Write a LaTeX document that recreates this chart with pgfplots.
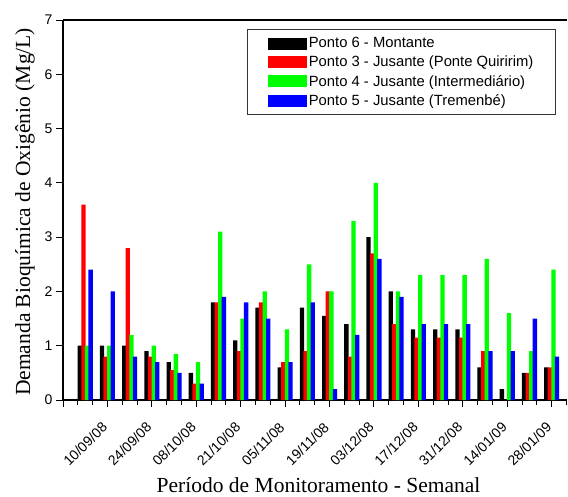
\documentclass[border=0pt]{standalone}
\usepackage{fontspec}
\setmainfont{Liberation Serif}
\newfontfamily\arial{Liberation Sans}
\usepackage{pgfplots}
\pgfplotsset{compat=1.18}
\usepackage{pgfplotstable}

\pgfplotstableread{
x k r g b
0 1.0 3.6 1.0 2.4
1 1.0 0.8 1.0 2.0
2 1.0 2.8 1.2 0.8
3 0.9 0.8 1.0 0.7
4 0.7 0.55 0.85 0.5
5 0.5 0.3 0.7 0.3
6 1.8 1.8 3.1 1.9
7 1.1 0.9 1.5 1.8
8 1.7 1.8 2.0 1.5
9 0.6 0.7 1.3 0.7
10 1.7 0.9 2.5 1.8
11 1.55 2.0 2.0 0.2
12 1.4 0.8 3.3 1.2
13 3.0 2.7 4.0 2.6
14 2.0 1.4 2.0 1.9
15 1.3 1.15 2.3 1.4
16 1.3 1.15 2.3 1.4
17 1.3 1.15 2.3 1.4
18 0.6 0.9 2.6 0.9
19 0.2 0 1.6 0.9
20 0.5 0.5 0.9 1.5
21 0.6 0.6 2.4 0.8
}\data

\begin{document}
\begin{tikzpicture}
\begin{axis}[
  at={(63pt,96pt)}, anchor=south west,
  scale only axis, width=504pt, height=380pt,
  xmin=-1, xmax=21.69, ymin=0, ymax=7,
  axis x line*=box, axis y line*=left,
  axis line style={line width=1.1pt},
  xtick pos=bottom, ytick pos=left,
  tick align=outside,
  major tick length=7pt, minor tick length=5pt,
  every tick/.style={black, line width=1pt},
  xtick={-1,1,...,21}, xticklabels={},
  minor xtick={-1,-0.33333,...,21.6},
  extra x ticks={0,2,...,20},
  extra x tick labels={10/09/08,24/09/08,08/10/08,21/10/08,05/11/08,19/11/08,03/12/08,17/12/08,31/12/08,14/01/09,28/01/09},
  extra x tick style={major tick length=0pt,
    xticklabel style={font=\arial\fontsize{14}{16}\selectfont, yshift=-44pt, rotate=45, anchor=center}},
  ytick={0,1,...,7},
  /pgf/number format/assume math mode=true,
  tick label style={font=\arial\fontsize{14}{16}\selectfont},
  xlabel={Período de Monitoramento - Semanal},
  ylabel={Demanda Bioquímica de Oxigênio (Mg/L)},
  label style={font=\fontsize{21.5}{24}\selectfont},
  xlabel style={at={(axis description cs:0.507,-0.224)}, anchor=center},
  ylabel style={at={(axis description cs:-0.0754,0.495)}, anchor=center},
  ybar, bar width=4.3pt,
  legend cell align=left,
  legend image code/.code={\fill[#1] (0pt,-6pt) rectangle (39pt,6pt);},
  legend style={at={(0.978,0.976)}, anchor=north east, draw=black!80, line width=1pt,
    font=\arial\fontsize{14.8}{17}\selectfont, inner xsep=20pt, inner ysep=6pt, row sep=2.8pt,
    /tikz/every even column/.append style={column sep=1pt}},
]
\addplot[fill=black, draw=none, bar shift=-5.4pt] table[x=x, y=k] {\data};
\addplot[fill=red, draw=none, bar shift=-1.8pt] table[x=x, y=r] {\data};
\addplot[fill={rgb,255:red,0;green,255;blue,0}, draw=none, bar shift=1.8pt] table[x=x, y=g] {\data};
\addplot[fill=blue, draw=none, bar shift=5.4pt] table[x=x, y=b] {\data};
\legend{Ponto 6 - Montante, Ponto 3 - Jusante (Ponte Quiririm), Ponto 4 - Jusante (Intermediário), Ponto 5 - Jusante (Tremenbé)}
\end{axis}
\pgfresetboundingbox
\path (0,0) rectangle (568pt,496pt);
\end{tikzpicture}
\end{document}
